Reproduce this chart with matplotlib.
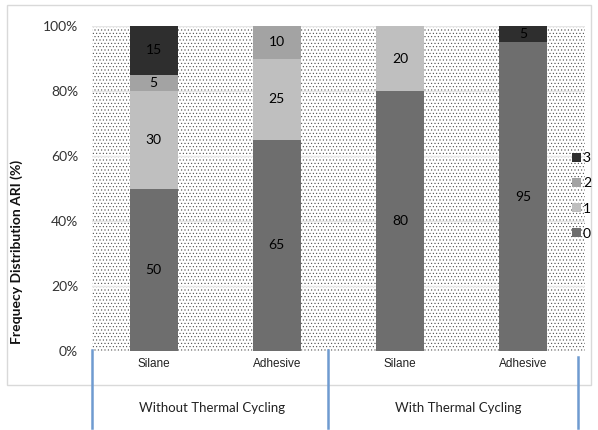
import numpy as np
import matplotlib.pyplot as plt
from matplotlib.patches import Rectangle, Patch
from matplotlib.lines import Line2D

# данные
categories = ["Silane", "Adhesive", "Silane", "Adhesive"]
groups = ["Without Thermal Cycling", "With Thermal Cycling"]
ari_0 = [50, 65, 80, 95]
ari_1 = [30, 25, 20, 0]
ari_2 = [5, 10, 0, 0]
ari_3 = [15, 0, 0, 5]
series_names = ["0", "1", "2", "3"]
colors = ["#6e6e6e", "#bfbfbf", "#a3a3a3", "#2e2e2e"]
y_ticks = [0, 20, 40, 60, 80, 100]

plt.rcParams["hatch.linewidth"] = 0.35

fig = plt.figure(figsize=(5.98, 4.30), dpi=100)

# рамка вокруг диаграммы
fig.add_artist(Rectangle((0.0117, 0.1047), 0.9766, 0.8837, transform=fig.transFigure,
                         facecolor="none", edgecolor="#d9d9d9", linewidth=1.0))

ax = fig.add_axes([0.1538, 0.1837, 0.8244, 0.7558])
ax.set_facecolor("white")

# точечный фон
bg = Rectangle((0, 0), 1, 1, transform=ax.transAxes, facecolor="white",
               edgecolor="#3a3a3a", hatch=".....", linewidth=0, zorder=0)
ax.add_patch(bg)

x = np.arange(len(categories))
width = 0.39
bottom = np.zeros(len(categories))
for vals, name, col in zip([ari_0, ari_1, ari_2, ari_3], series_names, colors):
    vals = np.array(vals, dtype=float)
    ax.bar(x, vals, width, bottom=bottom, color=col, edgecolor="none", zorder=3, label=name)
    for xi, v, b in zip(x, vals, bottom):
        if v > 0:
            ax.text(xi, b + v / 2, f"{int(v)}", ha="center", va="center",
                    fontsize=10, family="Lato", color="#000000", zorder=4)
    bottom += vals

ax.set_xlim(-0.5, len(categories) - 0.5)
ax.set_ylim(0, 100)
ax.set_yticks(y_ticks)
ax.set_yticklabels([f"{t}%" for t in y_ticks], family="Lato", fontsize=10, color="#333333")
ax.yaxis.grid(True, color="#e6e6e6", linewidth=1.0, zorder=1)
ax.set_axisbelow(True)
ax.tick_params(axis="y", length=0, pad=10)
ax.set_xticks(x)
ax.set_xticklabels(categories, family="Liberation Sans", fontsize=8.5, color="#222222")
ax.tick_params(axis="x", length=0, pad=5)
for s in ax.spines.values():
    s.set_visible(False)

fig.text(0.028, 0.415, "Frequecy Distribution ARI (%)", rotation=90, ha="center", va="center",
         fontsize=10, fontweight="bold", family="Lato", color="#111111")

# подписи групп
fig.text(212 / 598, 1 - 408 / 430, groups[0], ha="center", va="center",
         fontsize=9.5, family="Lato", color="#222222")
fig.text(458 / 598, 1 - 408 / 430, groups[1], ha="center", va="center",
         fontsize=9.5, family="Lato", color="#222222")

# синие разделители
for px, top in [(92, 350), (328, 350), (578, 357)]:
    fig.add_artist(Line2D([px / 598, px / 598], [1 - top / 430, 1 - 428 / 430],
                          transform=fig.transFigure, color="#6f9bd0", linewidth=1.8))

# легенда
handles = [Patch(facecolor=c, edgecolor="none") for c in colors][::-1]
leg = fig.legend(handles, series_names[::-1], loc="center left",
                 bbox_to_anchor=(571 / 598, 1 - 196 / 430), frameon=False,
                 handlelength=0.6, handleheight=0.6, handletextpad=0.15,
                 borderpad=0.1, borderaxespad=0.0,
                 labelspacing=0.95, prop={"family": "Lato", "size": 10})

fig.savefig("out.png", dpi=100)
